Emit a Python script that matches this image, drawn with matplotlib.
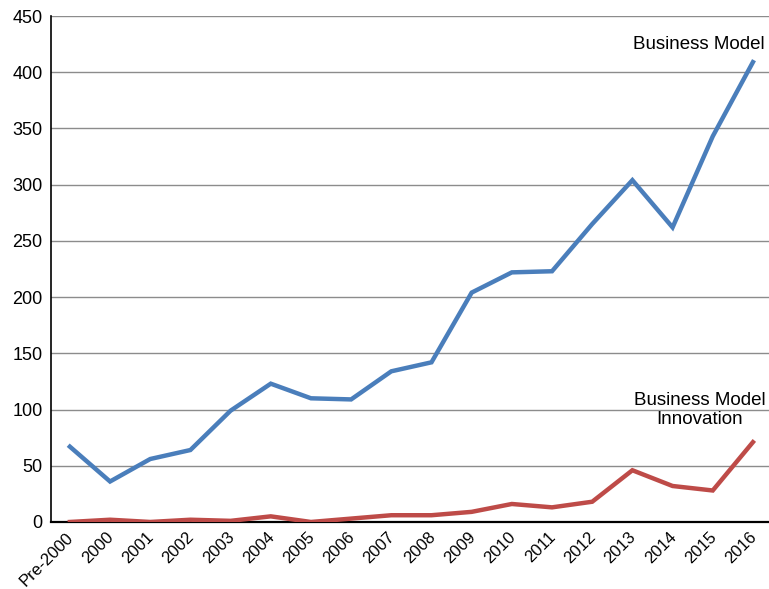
import matplotlib
matplotlib.use("Agg")
import matplotlib.pyplot as plt
import matplotlib.transforms as mtransforms

plt.rcParams['font.family'] = ['Liberation Sans', 'DejaVu Sans']

categories = ["Pre-2000", "2000", "2001", "2002", "2003", "2004", "2005", "2006", "2007",
              "2008", "2009", "2010", "2011", "2012", "2013", "2014", "2015", "2016"]
business_model = [67, 36, 56, 64, 99, 123, 110, 109, 134, 142, 204, 222, 223, 265, 304, 262, 343, 409]
bm_innovation = [0, 2, 0, 2, 1, 5, 0, 3, 6, 6, 9, 16, 13, 18, 46, 32, 28, 71]

fig = plt.figure(figsize=(7.69, 5.89), dpi=100)
ax = fig.add_axes([0.0663, 0.1138, 0.9337, 0.859])

x = list(range(len(categories)))
ax.plot(x, business_model, color="#4a7ebb", linewidth=3.2, solid_joinstyle="miter", zorder=3)
ax.plot(x, bm_innovation, color="#be4b48", linewidth=3.2, solid_joinstyle="miter", zorder=3)

ax.set_xlim(-0.47, 17.4)
ax.set_ylim(0, 450)
ax.set_yticks(range(0, 451, 50))
ax.set_xticks(x)
ax.set_xticklabels(categories, rotation=45, ha="right", rotation_mode="anchor")
ax.tick_params(axis="both", length=0, colors="black")
ax.tick_params(axis="x", pad=5.5, labelsize=12)
ax.tick_params(axis="y", pad=6, labelsize=13)

# nudge the rotated labels a little to the left
shift = mtransforms.ScaledTranslation(-0.04, 0, fig.dpi_scale_trans)
for lbl in ax.get_xticklabels():
    lbl.set_transform(lbl.get_transform() + shift)

ax.grid(axis="y", color="#8c8c8c", linewidth=1)
ax.set_axisbelow(True)
for s in ["top", "right"]:
    ax.spines[s].set_visible(False)
ax.spines["left"].set_linewidth(1.2)
ax.spines["bottom"].set_linewidth(1.6)

ax.text(17.3, 425, "Business Model", ha="right", va="center", fontsize=13.5)
ax.text(15.68, 100, "Business Model\nInnovation", ha="center", va="center",
        fontsize=13.5, linespacing=1.15)

fig.savefig("out.png", dpi=100)
